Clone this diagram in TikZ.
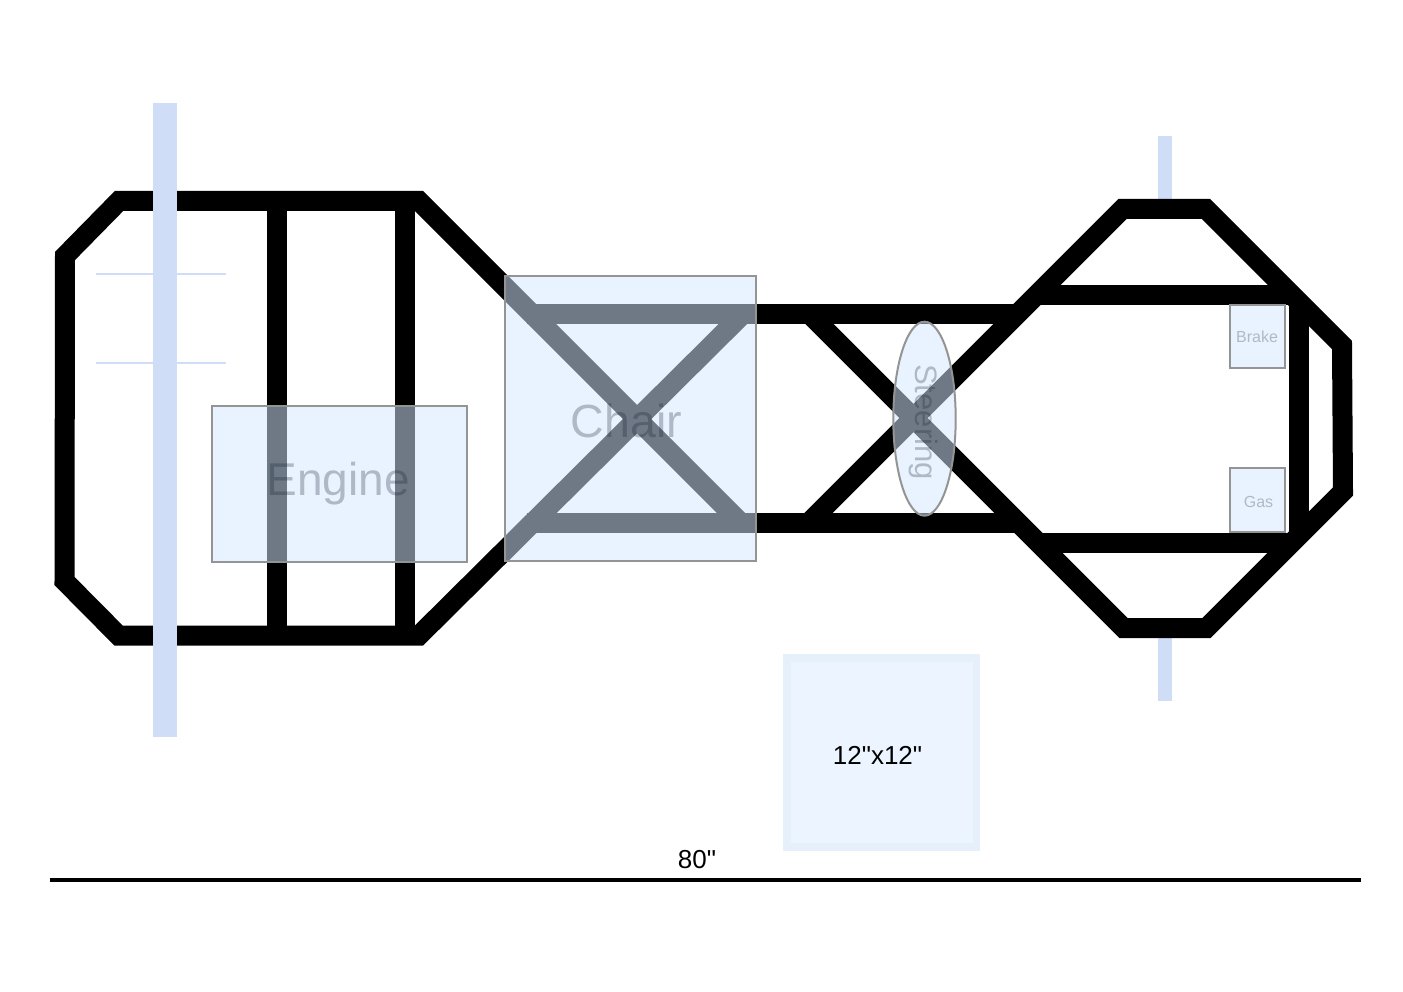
\documentclass[tikz,border=0pt]{standalone}
\usepackage{fontspec}
\setmainfont{Liberation Sans}[Ligatures=TeXOff]
\definecolor{axle}{HTML}{CFDDF7}
\definecolor{boxfill}{HTML}{D4E8FF}
\definecolor{boxline}{HTML}{949494}
\definecolor{labelink}{HTML}{0F2030}
\definecolor{sqfill}{HTML}{ECF4FF}
\definecolor{sqline}{HTML}{E6F0FB}
\tikzset{
  x=1pt,y=-1pt,
  beam/.style={draw=black,line width=20pt,line join=miter,miter limit=10},
  axlebar/.style={fill=axle,draw=none},
  thinbar/.style={draw=axle,line width=2pt},
  part/.style={draw=boxline,line width=2pt,fill=boxfill,fill opacity=.52},
  partlabel/.style={text=labelink,text opacity=.27,inner sep=0pt},
  dimlabel/.style={text=black,inner sep=0pt,font=\fontsize{26}{30}\selectfont},
}
\begin{document}
\begin{tikzpicture}
\useasboundingbox (0,0) rectangle (1403,992);
\fill[white] (0,0) rectangle (1403,992);
% frame vertices
\coordinate (la) at (119,201);
\coordinate (lb) at (65,256);
\coordinate (lc) at (64.5,581);
\coordinate (ld) at (118.5,635.5);
\coordinate (le) at (419,635.5);
\coordinate (lf) at (419,201);
\coordinate (ct) at (743,314);
\coordinate (cb) at (741,523);
\coordinate (ctl) at (527,314);
\coordinate (cbl) at (527,523);
\coordinate (htr) at (1022,314);
\coordinate (hbr) at (1022,523);
\coordinate (xtl) at (809.5,314);
\coordinate (xbl) at (808.5,523);
\coordinate (ra) at (1122.5,209);
\coordinate (rb) at (1206,209);
\coordinate (rc) at (1342,345);
\coordinate (rd) at (1343,491.5);
\coordinate (re) at (1206.5,628);
\coordinate (rf) at (1123.5,628);
% thin lines and right axle
\draw[thinbar] (96,273.7) -- (226,273.7);
\draw[thinbar] (96,362.7) -- (226,362.7);
\fill[axlebar] (1158.3,136) rectangle (1171.5,199);
\fill[axlebar] (1158.3,638) rectangle (1171.5,701);
% frame
\draw[beam] (cb) -- (lf) -- (la) -- (lb) -- (lc) -- (ld) -- (le) -- (ct);
\draw[beam] (277,201) -- (277,635.5);
\draw[beam] (405,201) -- (405,635.5);
\draw[beam] (ctl) -- (htr);
\draw[beam] (cbl) -- (hbr);
\draw[beam] (xtl) -- (rf) -- (re) -- (rd) -- (rc) -- (rb) -- (ra) -- (xbl);
\draw[beam] (1035,295) -- (1290,295);
\draw[beam] (1035,543) -- (1290,543);
\draw[beam] (1299,303) -- (1299,535);
% left axle
\fill[axlebar] (152.7,103) rectangle (176.7,736.7);
% parts
\draw[part] (212,405.7) rectangle (467.3,562);
\node[partlabel,font=\fontsize{46}{50}\selectfont] (engine) at (338,484) {Engine};
\draw[part] (504.7,275.7) rectangle (756.3,560.7);
\node[partlabel,font=\fontsize{46.5}{50}\selectfont] (chair) at (626.5,421) {Chair};
\draw[part] (924.5,418.7) ellipse [x radius=31.2,y radius=97];
\node[partlabel,rotate=-90,font=\fontsize{31}{35}\selectfont] (steering) at (924,422) {Steering};
\draw[part] (1229.7,305) rectangle (1285,368);
\node[partlabel,font=\fontsize{16}{18}\selectfont] (brake) at (1257,337) {Brake};
\draw[part] (1229.7,468) rectangle (1285,531.5);
\node[partlabel,font=\fontsize{16}{18}\selectfont] (gas) at (1258.5,501.5) {Gas};
% scale
\draw[draw=sqline,line width=7.5pt,fill=sqfill] (786.75,657.75) rectangle (976.25,847);
\node[dimlabel] (sq) at (877.5,755) {12"x12"};
\node[dimlabel] (len) at (697,859.5) {80"};
\coordinate (sl) at (50,880);
\coordinate (sr) at (1361,880);
\draw[line width=3.5pt] (sl) -- (sr);
\end{tikzpicture}
\end{document}
